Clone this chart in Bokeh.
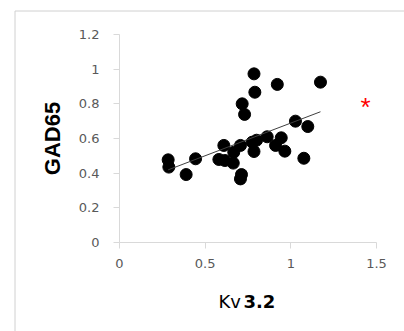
import numpy as np
from bokeh.plotting import figure
from bokeh.models import Range1d, FixedTicker, Label, BoxAnnotation
from bokeh.embed import file_html
from bokeh.resources import INLINE

# ---- data ----
kv32 = [0.284, 0.288, 0.389, 0.444, 0.580, 0.615, 0.609, 0.664, 0.667, 0.706,
        0.712, 0.706, 0.716, 0.730, 0.785, 0.790, 0.775, 0.785, 0.800, 0.862,
        0.911, 0.921, 0.944, 0.965, 1.027, 1.076, 1.099, 1.173]
gad65 = [0.477, 0.435, 0.392, 0.483, 0.479, 0.473, 0.560, 0.458, 0.521, 0.560,
         0.392, 0.367, 0.800, 0.739, 0.973, 0.867, 0.579, 0.525, 0.590, 0.610,
         0.560, 0.912, 0.604, 0.527, 0.700, 0.486, 0.669, 0.925]

x_ticks = [0, 0.5, 1.0, 1.5]
x_tick_labels = ["0", "0.5", "1", "1.5"]
y_ticks = [0, 0.2, 0.4, 0.6, 0.8, 1.0, 1.2]
y_tick_labels = ["0", "0.2", "0.4", "0.6", "0.8", "1", "1.2"]

x_title_a = "Kv"
x_title_b = "3.2"
y_title = "GAD65"
sig_mark = "*"

TICK_FONT = "DejaVu Sans"
TITLE_FONT = "DejaVu Sans"
TICK_COLOR = "#595959"
AXIS_COLOR = "#d9d9d9"

W, H = 404, 331
# pixel placement of the axes inside the canvas
X0_PX, X1_PX = 119.0, 376.0   # x = 0 and x = 1.5
Y0_PX, Y1_PX = 242.0, 34.0    # y = 0 and y = 1.2
sx = (X1_PX - X0_PX) / 1.5
sy = (Y0_PX - Y1_PX) / 1.2


def px_to_x(px):
    return (px - X0_PX) / sx


def px_to_y(py):
    return (Y0_PX - py) / sy


p = figure(width=W, height=H, output_backend="svg", toolbar_location=None,
           x_range=Range1d(px_to_x(0), px_to_x(W)),
           y_range=Range1d(px_to_y(H), px_to_y(0)),
           min_border=0)
p.outline_line_color = None
p.xgrid.grid_line_color = None
p.ygrid.grid_line_color = None
p.background_fill_color = "white"
p.border_fill_color = "white"

for ax, ticks, labels in ((p.xaxis[0], x_ticks, x_tick_labels),
                          (p.yaxis[0], y_ticks, y_tick_labels)):
    ax.fixed_location = 0
    ax.bounds = (ticks[0], ticks[-1])
    ax.ticker = FixedTicker(ticks=ticks)
    ax.major_label_overrides = {t: l for t, l in zip(ticks, labels)}
    ax.axis_line_color = AXIS_COLOR
    ax.major_tick_line_color = AXIS_COLOR
    ax.major_tick_out = 6
    ax.major_tick_in = 0
    ax.minor_tick_line_color = None
    ax.major_label_text_font = TICK_FONT
    ax.major_label_text_font_size = "13px"
    ax.major_label_text_color = TICK_COLOR

p.xaxis[0].major_label_standoff = 10
p.yaxis[0].major_label_standoff = 14

p.yaxis[0].axis_label = y_title
p.yaxis[0].axis_label_text_font = "Liberation Sans"
p.yaxis[0].axis_label_text_font_size = "22px"
p.yaxis[0].axis_label_text_font_style = "bold"
p.yaxis[0].axis_label_text_color = "black"
p.yaxis[0].axis_label_standoff = 11

# outer chart-area frame (left and top edges visible)
p.add_layout(BoxAnnotation(left=px_to_x(14.5), top=px_to_y(10.5),
                           right=px_to_x(W + 50), bottom=px_to_y(H + 50),
                           fill_alpha=0, line_color="#d0d0d0", line_alpha=1,
                           line_width=1))

# points
p.scatter(kv32, gad65, size=12, color="black")

# linear trendline
k, b = np.polyfit(kv32, gad65, 1)
xs = np.array([min(kv32), max(kv32)])
p.line(xs, k * xs + b, line_color="#404040", line_width=1)

# x-axis title, "Kv" regular + "3.2" bold
p.add_layout(Label(x=px_to_x(218), y=px_to_y(300.7), text=x_title_a,
                   text_font=TITLE_FONT, text_font_size="18px",
                   text_color="black",
                   text_baseline="alphabetic", text_align="left"))
p.add_layout(Label(x=px_to_x(243), y=px_to_y(300.7), text=x_title_b,
                   text_font=TITLE_FONT, text_font_size="18px",
                   text_font_style="bold", text_color="black",
                   text_baseline="alphabetic", text_align="left"))

# significance mark
p.add_layout(Label(x=px_to_x(365), y=px_to_y(106.5), text=sig_mark,
                   text_font="Liberation Sans", text_font_size="26px",
                   text_color="red",
                   text_baseline="alphabetic", text_align="center"))

open("out.html", "w").write(file_html(p, INLINE))
